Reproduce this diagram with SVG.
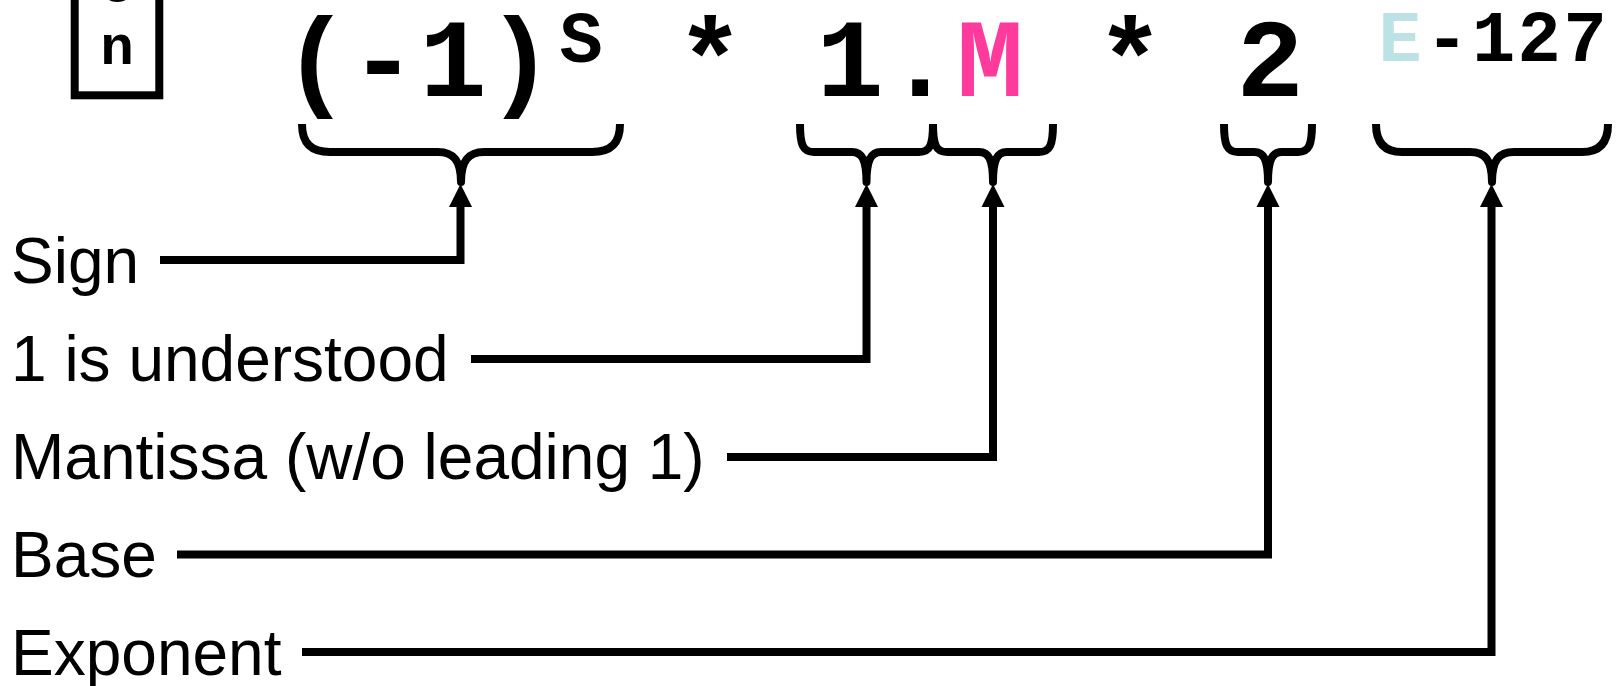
<svg xmlns="http://www.w3.org/2000/svg" width="1616" height="686" viewBox="0 0 1616 686">
<style>
  .mono { font-family: "Liberation Mono", "Courier New", monospace; font-weight: bold; fill: #000; }
  .big { font-size: 112px; text-anchor: middle; }
  .sup { font-size: 72px; text-anchor: middle; }
  .lbl { font-family: "Liberation Sans", Arial, sans-serif; font-size: 64px; fill: #000; }
  .brace { fill: none; stroke: #000; stroke-width: 8; stroke-linejoin: round; }
  .conn { fill: none; stroke: #000; stroke-width: 8; stroke-linejoin: miter; marker-end: url(#ah); }
</style>
<defs>
  <marker id="ah" markerUnits="userSpaceOnUse" markerWidth="24" markerHeight="24" viewBox="0 0 24 24" refX="8" refY="12" orient="auto">
    <path d="M0,0.5 L23,12 L0,23.5 z" fill="#000"/>
  </marker>
</defs>
<rect width="1616" height="686" fill="#fff"/>

<g id="sidebox">
  <rect x="74.7" y="-30" width="84.6" height="125.3" fill="none" stroke="#000" stroke-width="8"/>
  <text class="mono" x="117" y="-10" font-size="56" text-anchor="middle">g</text>
  <text class="mono" x="117" y="64" font-size="56" text-anchor="middle">n</text>
</g>

<g id="formula">
  <text class="mono big" y="96"><tspan x="316">(</tspan><tspan x="383">-</tspan><tspan x="453">1</tspan><tspan x="520">)</tspan></text>
  <text class="mono sup" x="581" y="62">S</text>
  <text class="mono big" y="96"><tspan x="710">*</tspan><tspan x="850">1</tspan><tspan x="920">.</tspan><tspan x="990" fill="#ff3a9d">M</tspan><tspan x="1130">*</tspan><tspan x="1270">2</tspan></text>
  <text class="mono sup" y="61"><tspan x="1400" fill="#bce2e5">E</tspan><tspan x="1447">-</tspan><tspan x="1493.5">1</tspan><tspan x="1539">2</tspan><tspan x="1585">7</tspan></text>
</g>

<g id="braces">
  <path class="brace" d="M302,124 C302,143 311,152 330,152 H438 C453,152 461,160 461,182 C461,160 469,152 484,152 H592 C611,152 620,143 620,124"/>
  <path class="brace" d="M800,124 C800,145 803,152 814,152 H852 C862,152 866.5,160 866.5,182 C866.5,160 871,152 881,152 H919 C930,152 933,145 933,124"/>
  <path class="brace" d="M933,124 C933,145 936,152 947,152 H979 C989,152 993,160 993,182 C993,160 997,152 1007,152 H1039 C1050,152 1053,145 1053,124"/>
  <path class="brace" d="M1224,124 C1224,145 1227,152 1238,152 H1254 C1264,152 1268,160 1268,182 C1268,160 1272,152 1282,152 H1298 C1309,152 1312,145 1312,124"/>
  <path class="brace" d="M1376,124 C1376,143 1385,152 1402,152 H1470 C1485,152 1492,160 1492,182 C1492,160 1499,152 1514,152 H1582 C1599,152 1608,143 1608,124"/>
</g>

<g id="label-sign"><text class="lbl" x="11" y="283">Sign</text></g>
<g id="label-understood"><text class="lbl" x="11" y="381">1 is understood</text></g>
<g id="label-mantissa"><text class="lbl" x="11" y="479">Mantissa (w/o leading 1)</text></g>
<g id="label-base"><text class="lbl" x="11" y="577">Base</text></g>
<g id="label-exponent"><text class="lbl" x="11" y="675">Exponent</text></g>

<g id="connectors">
  <path class="conn" d="M160,260 H460.5 V199"/>
  <path class="conn" d="M471,359 H866.5 V199"/>
  <path class="conn" d="M727,457 H993 V199"/>
  <path class="conn" d="M177,554.5 H1268 V199"/>
  <path class="conn" d="M302,652 H1491.5 V199"/>
</g>
</svg>
